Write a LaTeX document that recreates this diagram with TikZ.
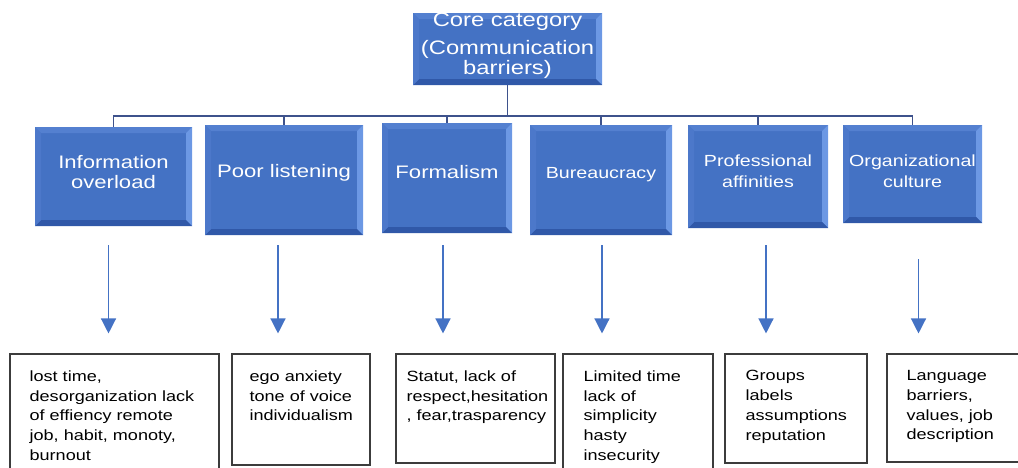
\documentclass[tikz,border=0pt]{standalone}
\usepackage{fontspec}
\setmainfont{Liberation Sans}[FakeStretch=1.22]
\usetikzlibrary{arrows.meta}

\definecolor{boxblue}{RGB}{68,114,196}
\definecolor{bevtopc}{RGB}{84,128,208}
\definecolor{bevleftc}{RGB}{76,120,202}
\definecolor{bevrightc}{RGB}{108,152,228}
\definecolor{bevbotc}{RGB}{48,88,168}
\definecolor{treeline}{RGB}{62,82,140}
\definecolor{arrowblue}{RGB}{68,114,196}
\definecolor{frame}{RGB}{60,60,60}

\tikzset{
  bevelbox/.style={fill=boxblue, draw=none, inner sep=0pt,
    path picture={
      \path (path picture bounding box.north west) coordinate (pnw)
            (path picture bounding box.north east) coordinate (pne)
            (path picture bounding box.south east) coordinate (pse)
            (path picture bounding box.south west) coordinate (psw);
      \fill[bevtopc] (pnw) -- (pne) -- ([shift={(-6pt,-6pt)}]pne) -- ([shift={(6pt,-6pt)}]pnw) -- cycle;
      \fill[bevrightc] (pne) -- (pse) -- ([shift={(-6pt,6pt)}]pse) -- ([shift={(-6pt,-6pt)}]pne) -- cycle;
      \fill[bevbotc] (pse) -- (psw) -- ([shift={(6pt,6pt)}]psw) -- ([shift={(-6pt,6pt)}]pse) -- cycle;
      \fill[bevleftc] (psw) -- (pnw) -- ([shift={(6pt,-6pt)}]pnw) -- ([shift={(6pt,6pt)}]psw) -- cycle;
    }},
  bigtext/.style={text=white, align=center, inner sep=0pt, font=\fontsize{18.1}{20}\selectfont},
  midtext/.style={text=white, align=center, inner sep=0pt, font=\fontsize{16.1}{21}\selectfont},
  coretext/.style={text=white, align=center, inner sep=0pt, font=\fontsize{19.5}{20}\selectfont},
  notebox/.style={draw=frame, line width=1.1pt, fill=white, inner sep=0pt},
  notetext/.style={anchor=north west, align=left, inner sep=0pt, text=black,
    font=\fontsize{14.8}{19.7}\selectfont},
  tree/.style={draw=treeline, line width=1.6pt},
  arr/.style={draw=arrowblue, line width=1.3pt, -{Triangle[width=15pt,length=15pt]}},
}

\begin{document}
\begin{tikzpicture}[x=1pt,y=-1pt]
\useasboundingbox (0,0) rectangle (1018,467);

% core category
\node[bevelbox, minimum width=189pt, minimum height=72pt,
  label={[coretext, yshift=3pt]center:Core category\\[8pt](Communication\\barriers)}]
  (core) at (507.5,49) {};

% categories
\node[bevelbox, minimum width=157pt, minimum height=99pt,
  label={[bigtext, yshift=4.5pt]center:Information\\overload}] (b1) at (113.5,176.5) {};
\node[bevelbox, minimum width=158pt, minimum height=110pt,
  label={[bigtext, yshift=7pt]center:Poor listening}] (b2) at (284,180) {};
\node[bevelbox, minimum width=130pt, minimum height=110pt,
  label={[bigtext, yshift=6pt]center:Formalism}] (b3) at (447,178) {};
\node[bevelbox, minimum width=142pt, minimum height=110pt,
  label={[midtext, yshift=5pt]center:Bureaucracy}] (b4) at (601,180) {};
\node[bevelbox, minimum width=140pt, minimum height=103pt,
  label={[midtext, yshift=5.5pt]center:Professional\\affinities}] (b5) at (758,176.5) {};
\node[bevelbox, minimum width=139pt, minimum height=98pt,
  label={[midtext, yshift=3pt]center:Organizational\\culture}] (b6) at (912.5,174) {};

% tree connectors
\foreach \b in {b1,b2,b3,b4,b5,b6}
  \draw[tree] (core.south) -- ++(0,31) -| (\b.north);

% detail boxes
\node[notebox, minimum width=209pt, minimum height=131pt,
  label={[notetext, xshift=20pt, yshift=-17pt]north west:lost time,\\desorganization lack\\of effiency remote\\job, habit, monoty,\\burnout}]
  (n1) at (114.5,419.5) {};
\node[notebox, minimum width=138pt, minimum height=111pt,
  label={[notetext, xshift=18pt, yshift=-17pt]north west:ego anxiety\\tone of voice\\individualism}]
  (n2) at (301,409.5) {};
\node[notebox, minimum width=159pt, minimum height=109pt,
  label={[notetext, xshift=11pt, yshift=-17pt]north west:Statut, lack of\\respect,hesitation\\, fear,trasparency}]
  (n3) at (475.5,408.5) {};
\node[notebox, minimum width=150pt, minimum height=131pt,
  label={[notetext, xshift=21pt, yshift=-17pt]north west:Limited time\\lack of\\simplicity\\hasty\\insecurity}]
  (n4) at (638,419.5) {};
\node[notebox, minimum width=142pt, minimum height=109pt,
  label={[notetext, xshift=21pt, yshift=-17pt]north west:Groups\\labels\\assumptions\\reputation}]
  (n5) at (796,408.5) {};
\node[notebox, minimum width=143pt, minimum height=108pt,
  label={[notetext, xshift=20pt, yshift=-17pt]north west:Language\\barriers,\\values, job\\description}]
  (n6) at (958.5,408) {};

% arrows from categories to details
\draw[arr, shorten <=19pt, shorten >=20pt] ([xshift=-5pt]b1.south) -- ([xshift=-5pt]b1.south |- n1.north);
\draw[arr, shorten <=10pt, shorten >=20pt] ([xshift=-6pt]b2.south) -- ([xshift=-6pt]b2.south |- n2.north);
\draw[arr, shorten <=12pt, shorten >=20pt] ([xshift=-4pt]b3.south) -- ([xshift=-4pt]b3.south |- n3.north);
\draw[arr, shorten <=10pt, shorten >=20pt] ([xshift=1pt]b4.south) -- ([xshift=1pt]b4.south |- n4.north);
\draw[arr, shorten <=17pt, shorten >=20pt] ([xshift=8pt]b5.south) -- ([xshift=8pt]b5.south |- n5.north);
\draw[arr, shorten <=36pt, shorten >=20pt] ([xshift=6pt]b6.south) -- ([xshift=6pt]b6.south |- n6.north);
\end{tikzpicture}
\end{document}
